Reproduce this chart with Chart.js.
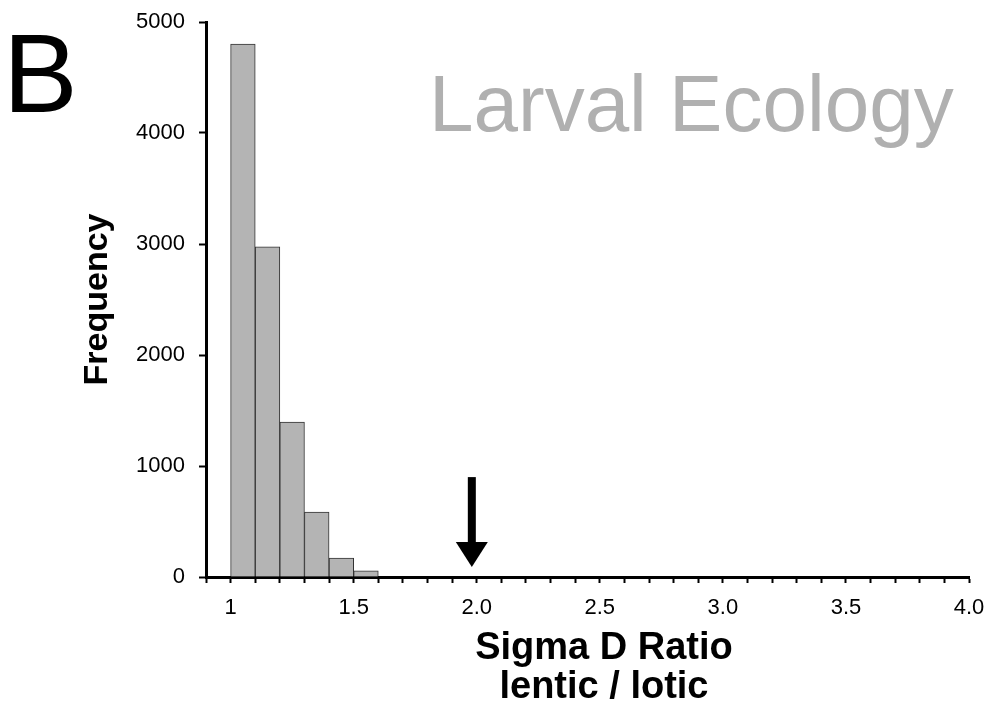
<!DOCTYPE html>
<html>
<head>
<meta charset="utf-8">
<script src="https://cdn.jsdelivr.net/npm/chart.js@4/dist/chart.umd.min.js"></script>
<style>
  html, body { margin: 0; padding: 0; background: #fff; }
  #wrap { position: relative; width: 988px; height: 711px; }
  #chart { position: absolute; left: 0; top: 0; }
  .label { position: absolute; font-family: "Liberation Sans", Arial, sans-serif; white-space: nowrap; line-height: 1; }
  #panel { left: 3px; top: 18px; font-size: 112px; color: #000; }
  #group { left: 429px; top: 64px; font-size: 80px; color: #b0b0b0; }
  .xtitle { left: 404px; width: 400px; text-align: center; font-size: 38px; font-weight: bold; color: #000; }
  #xt1 { top: 627px; }
  #xt2 { top: 666px; }
</style>
</head>
<body>
<div id="wrap">
  <canvas id="chart" width="988" height="711"></canvas>
  <div class="label" id="panel">B</div>
  <div class="label" id="group">Larval Ecology</div>
  <div class="label xtitle" id="xt1">Sigma D Ratio</div>
  <div class="label xtitle" id="xt2">lentic / lotic</div>
</div>
<script>
// histogram bins (left edge) and counts
const binStarts = [1.0, 1.1, 1.2, 1.3, 1.4, 1.5];
const counts = [4800, 2975, 1395, 585, 170, 55];
const binWidth = 0.1;

// x tick labels shown on the axis (keyed by tenths)
const xLabels = { 10: "1", 15: "1.5", 20: "2.0", 25: "2.5", 30: "3.0", 35: "3.5", 40: "4.0" };

// observed ratio marked by the arrow
const arrowX = 1.98;
const arrowFrom = 900;
const arrowTo = 90;

const font = "'Liberation Sans', Arial, sans-serif";

const arrowPlugin = {
  id: "arrow",
  afterDatasetsDraw(chart) {
    const { ctx, scales } = chart;
    const x = scales.x.getPixelForValue(arrowX);
    const y0 = scales.y.getPixelForValue(arrowFrom);
    const y1 = scales.y.getPixelForValue(arrowTo);
    const headLen = 25, headHalf = 16, shaftHalf = 4;
    ctx.save();
    ctx.fillStyle = "#000";
    ctx.fillRect(x - shaftHalf, y0, shaftHalf * 2, y1 - headLen - y0 + 1);
    ctx.beginPath();
    ctx.moveTo(x - headHalf, y1 - headLen);
    ctx.lineTo(x + headHalf, y1 - headLen);
    ctx.lineTo(x, y1);
    ctx.closePath();
    ctx.fill();
    ctx.restore();
  }
};

new Chart(document.getElementById("chart"), {
  type: "bar",
  data: {
    datasets: [{
      data: binStarts.map((s, i) => ({ x: s + binWidth / 2, y: counts[i] })),
      backgroundColor: "#b4b4b4",
      borderColor: "#333",
      borderWidth: 1,
      barPercentage: 1,
      categoryPercentage: 1
    }]
  },
  options: {
    responsive: false,
    animation: false,
    layout: { padding: { top: 22, right: 19, left: 0, bottom: 0 } },
    plugins: { legend: { display: false }, tooltip: { enabled: false } },
    scales: {
      x: {
        type: "linear",
        min: 0.9,
        max: 4.0,
        offset: false,
        afterFit: (s) => { s.height = 134; s.paddingLeft = 0; s.paddingRight = 0; },
        border: { display: true, color: "#000", width: 3 },
        grid: { drawOnChartArea: false, offset: false, tickLength: 6, tickWidth: 2, tickColor: "#000" },
        ticks: {
          stepSize: 0.1,
          autoSkip: false,
          maxRotation: 0,
          padding: 12,
          color: "#000",
          font: { family: font, size: 22 },
          callback: (v) => xLabels[Math.round(v * 10)] || ""
        }
      },
      y: {
        min: 0,
        max: 5000,
        afterFit: (s) => { s.width = 206; s.paddingTop = 0; s.paddingBottom = 0; },
        border: { display: true, color: "#000", width: 3 },
        grid: { drawOnChartArea: false, tickLength: 7, tickWidth: 2, tickColor: "#000" },
        ticks: {
          stepSize: 1000,
          padding: 14,
          color: "#000",
          font: { family: font, size: 22 },
          callback: (v) => String(v)
        },
        title: {
          display: true,
          text: "Frequency",
          color: "#000",
          font: { family: font, size: 34, weight: "bold" },
          padding: { top: 77, bottom: 0 }
        }
      }
    }
  },
  plugins: [arrowPlugin]
});
</script>
</body>
</html>
